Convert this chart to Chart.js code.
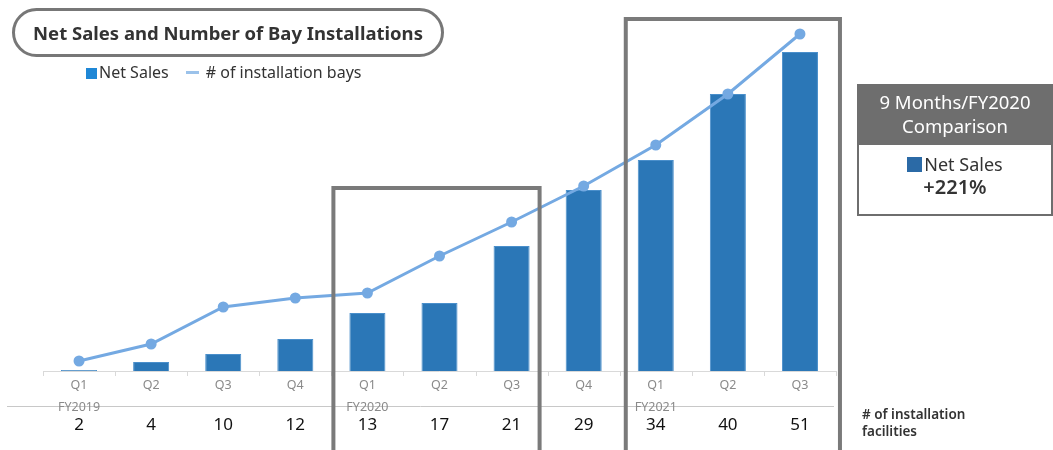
<!DOCTYPE html>
<html lang="en">
<head>
  <meta charset="UTF-8">
  <title>Net Sales and Number of Bay Installations</title>
  <script src="https://cdn.jsdelivr.net/npm/chart.js"></script>
  <style>
    body { margin: 0; background: #fff; font-family: 'Noto Sans', sans-serif; }
    .wrap { position: relative; width: 1053px; height: 450px; overflow: hidden; }
    #chart { position: absolute; left: 0; top: 0; }
    .title { position: absolute; left: 12px; top: 8px; width: 426px; height: 43px; border: 3px solid #777; border-radius: 25px;
             font: bold 18.5px 'Noto Sans', sans-serif; color: #333; text-align: center; line-height: 43px; }
    .legend { position: absolute; left: 86px; top: 61px; font: 16px 'Noto Sans', sans-serif; color: #333; white-space: nowrap; }
    .legend .sq { display: inline-block; width: 11px; height: 11px; background: #1f87d6; margin-right: 2px; vertical-align: -1px; }
    .legend .ln { display: inline-block; width: 13px; height: 3px; background: #9bc2ea; margin: 0 7px 0 17px; vertical-align: 4px; }
    .cmp { position: absolute; left: 857px; top: 84px; width: 196px; height: 132px; }
    .cmp .hd { background: #6e6e6e; color: #fff; font: 18.5px 'Noto Sans', sans-serif; text-align: center; line-height: 24px; height: 61px; padding-top: 6px; box-sizing: border-box; }
    .cmp .bd { border: 2px solid #6e6e6e; border-top: none; height: 71px; text-align: center; color: #333; box-sizing: border-box; padding-top: 8px; }
    .cmp .bd .sq { display: inline-block; width: 15px; height: 15px; background: #2b6aa6; vertical-align: -1px; margin-right: 2px; }
    .cmp .l1 { font: 18px 'Noto Sans', sans-serif; line-height: 22px; }
    .cmp .l2 { font: 600 20px 'Noto Sans', sans-serif; line-height: 24px; }
    .fac { position: absolute; left: 862px; top: 406px; font: 600 13.5px 'Noto Sans', sans-serif; color: #333; line-height: 17px; }
  </style>
</head>
<body>
<div class="wrap">
  <canvas id="chart" width="1053" height="450"></canvas>
  <div class="title">Net Sales and Number of Bay Installations</div>
  <div class="legend"><span class="sq"></span>Net Sales<span class="ln"></span># of installation bays</div>
  <div class="cmp">
    <div class="hd">9 Months/FY2020<br>Comparison</div>
    <div class="bd"><div class="l1"><span class="sq"></span>Net Sales</div><div class="l2">+221%</div></div>
  </div>
  <div class="fac"># of installation<br>facilities</div>
</div>

<script>
const quarters = ["Q1","Q2","Q3","Q4","Q1","Q2","Q3","Q4","Q1","Q2","Q3"];
const fiscalYears = [[0, "FY2019"], [4, "FY2020"], [8, "FY2021"]];
const netSales = [1, 9, 17, 32, 58, 68, 125, 181, 211, 277, 319];
const installationBays = [10, 27, 64, 73, 78, 115, 149, 185, 226, 277, 337];
const facilities = [2, 4, 10, 12, 13, 17, 21, 29, 34, 40, 51];

// highlight boxes: [first index, last index, top px, left offset, right offset]
const highlights = [[4, 6, 188, -34, 28], [8, 10, 19, -30, 40]];

const extras = {
  id: 'extras',
  afterDatasetsDraw(chart) {
    const ctx = chart.ctx, x = chart.scales.x, area = chart.chartArea;
    ctx.save();
    // axis line + tick marks
    ctx.strokeStyle = '#d9d9d9'; ctx.lineWidth = 1;
    ctx.beginPath(); ctx.moveTo(area.left, area.bottom + 0.5); ctx.lineTo(area.right, area.bottom + 0.5); ctx.stroke();
    const step = (area.right - area.left) / quarters.length;
    for (let i = 0; i <= quarters.length; i++) {
      const px = Math.round(area.left + step * i) + 0.5;
      ctx.beginPath(); ctx.moveTo(px, area.bottom); ctx.lineTo(px, area.bottom + 5); ctx.stroke();
    }
    // separator line
    ctx.strokeStyle = '#c8c8c8';
    ctx.beginPath(); ctx.moveTo(7, 406.5); ctx.lineTo(area.right - 2, 406.5); ctx.stroke();
    ctx.textAlign = 'center'; ctx.textBaseline = 'middle';
    ctx.fillStyle = '#8a8a8a'; ctx.font = '12.5px "Noto Sans"';
    quarters.forEach((q, i) => ctx.fillText(q, x.getPixelForValue(i), 385));
    fiscalYears.forEach(([i, fy]) => ctx.fillText(fy, x.getPixelForValue(i), 407));
    ctx.fillStyle = '#111'; ctx.font = '17px "Noto Sans"';
    facilities.forEach((v, i) => ctx.fillText(String(v), x.getPixelForValue(i), 425));
    // highlight boxes
    ctx.strokeStyle = '#7a7a7a'; ctx.lineWidth = 4;
    highlights.forEach(([a, b, top, dl, dr]) => {
      const l = x.getPixelForValue(a) + dl, r = x.getPixelForValue(b) + dr;
      ctx.beginPath(); ctx.moveTo(l, 460); ctx.lineTo(l, top); ctx.lineTo(r, top); ctx.lineTo(r, 460); ctx.stroke();
    });
    ctx.restore();
  }
};

new Chart(document.getElementById('chart'), {
  data: {
    labels: quarters,
    datasets: [
      { type: 'line', label: '# of installation bays', data: installationBays, yAxisID: 'y1', order: 0, clip: false,
        borderColor: '#74a9e2', backgroundColor: '#74a9e2', borderWidth: 3, pointRadius: 4, pointBackgroundColor: '#74a9e2', tension: 0 },
      { type: 'bar', label: 'Net Sales', data: netSales, yAxisID: 'y', order: 1,
        backgroundColor: '#2b77b7', borderColor: '#4a8fcb', borderWidth: 1, barPercentage: 0.5, categoryPercentage: 1 }
    ]
  },
  options: {
    responsive: false, animation: false,
    layout: { padding: { left: 43, right: 217, top: 31, bottom: 79 } },
    plugins: { legend: { display: false }, tooltip: { enabled: false } },
    scales: {
      x: { display: false, offset: true },
      y: { display: false, min: 0, max: 340 },
      y1: { display: false, min: 0, max: 340 }
    }
  },
  plugins: [extras]
});
</script>
</body>
</html>
